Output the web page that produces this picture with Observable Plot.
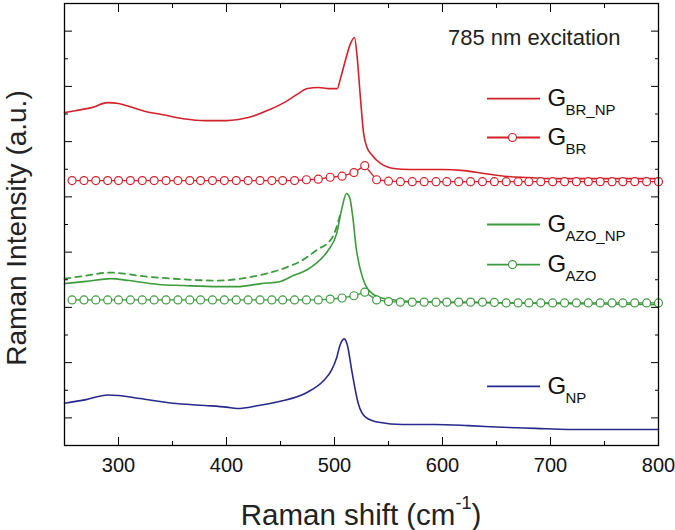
<!DOCTYPE html>
<html><head><meta charset="utf-8">
<script src="https://cdn.jsdelivr.net/npm/d3@7"></script>
<script src="https://cdn.jsdelivr.net/npm/@observablehq/plot@0.6"></script>
<style>body{margin:0;background:#fff} #chart{width:675px;height:530px}</style>
</head><body><div id="chart"></div>
<script>
// ---- data (Raman shift in cm-1, intensity in arbitrary stacked units) ----
const brNpX = [250,260,275,290,300,310,325,340,360,380,400,420,440,455,465,475,485,495,502.5,505.5,510,514.8,518.5,521,524,527,530,535,542.6,554.8,570,600,620,640,660,680,700,750,800];
const brNpY = [12.05,12.12,12.23,12.41,12.38,12.27,12.09,11.98,11.83,11.76,11.76,11.87,12.16,12.45,12.70,12.92,12.96,12.92,12.92,13.28,13.93,14.55,14.77,14.05,12.59,11.29,10.80,10.50,10.21,10.03,9.99,9.99,9.95,9.84,9.74,9.70,9.66,9.66,9.66];

const circleX = [257,268,279,290,300,311,322,333,344,355,366,376,387,398,409,420,431,442,452,463,474,485,496,507,518,528,539,550,561,572,583,594,604,615,626,637,648,659,670,680,691,702,713,724,735,746,757,767,778,789,800];
const brY = [9.59,9.59,9.59,9.59,9.59,9.59,9.59,9.59,9.59,9.59,9.59,9.59,9.59,9.59,9.59,9.59,9.59,9.59,9.59,9.59,9.62,9.64,9.71,9.75,9.88,10.13,9.62,9.57,9.55,9.55,9.55,9.55,9.55,9.55,9.55,9.55,9.55,9.55,9.55,9.55,9.55,9.55,9.55,9.55,9.55,9.55,9.55,9.55,9.55,9.55,9.55];
const azoY = [5.27,5.27,5.27,5.27,5.27,5.27,5.27,5.27,5.27,5.27,5.27,5.27,5.27,5.27,5.27,5.27,5.27,5.27,5.27,5.27,5.27,5.27,5.30,5.34,5.42,5.55,5.27,5.21,5.19,5.19,5.19,5.19,5.19,5.19,5.19,5.19,5.18,5.16,5.16,5.16,5.16,5.16,5.16,5.16,5.16,5.16,5.16,5.16,5.16,5.16,5.16];

const azoNpX = [250,270,293,310,337,360,392,410,432,450,462,475,483,494,502,507,511,514,517,520,526,535,546,560,600,650,700,750,800];
const azoNpY = [5.86,5.94,6.04,5.97,5.83,5.79,5.75,5.75,5.86,5.94,6.15,6.37,6.59,7.06,7.67,8.61,9.12,8.98,8.25,7.17,6.08,5.50,5.32,5.25,5.18,5.16,5.14,5.12,5.10];

const azoDashX = [250,265,293,305,318,350,392,425,455,470,483,498,505];
const azoDashY = [6.04,6.12,6.26,6.22,6.15,6.04,5.97,6.12,6.44,6.70,7.06,7.53,8.32];

const npX = [250,270,290,300,320,350,380,400,410,430,450,475,490,497,502,505,509,512,516,522,529,541,563,593,624,655,686,717,800];
const npY = [1.53,1.66,1.83,1.81,1.70,1.53,1.45,1.39,1.34,1.45,1.60,1.93,2.35,2.71,3.18,3.62,3.86,3.62,2.71,1.52,1.02,0.84,0.76,0.76,0.72,0.66,0.62,0.58,0.58];

const xMajorTicks = [300,400,500,600,700,800];
const xMinorTicks = [250,350,450,550,650,750];
const yMajorTicks = [1,3,5,7,9,11,13,15];
const yMinorTicks = [2,4,6,8,10,12,14];

const legendLabels = ["BR_NP","BR","AZO_NP","AZO","NP"];
const legendMarker = [false,true,false,true,false];

// ---- styles / layout ----
const FONT = "'Liberation Sans', Arial, sans-serif";
const RED = "#d3212a", GREEN = "#3c9b3c", BLUE = "#28298c";
const legendColors = [RED, RED, GREEN, GREEN, BLUE];
const legendRowY = [12.56, 11.15, 8.0, 6.55, 2.14];
const legendX1 = 641.7, legendX2 = 690.7, legendDotX = 664.8, legendTextX = 697.2;

const pts = (xs, ys) => xs.map((x, i) => ({x, y: ys[i]}));
const brNp = pts(brNpX, brNpY), br = pts(circleX, brY), azoNp = pts(azoNpX, azoNpY),
      azo = pts(circleX, azoY), azoDash = pts(azoDashX, azoDashY), np = pts(npX, npY);
const legend = legendLabels.map((s, i) => ({sub: s, marker: legendMarker[i], color: legendColors[i], y: legendRowY[i]}));

const noText = () => "";
const plot = Plot.plot({
  width: 675, height: 530,
  marginLeft: 64, marginRight: 17, marginTop: 3, marginBottom: 85,
  style: {fontFamily: FONT, background: "white"},
  x: {domain: [250, 800]},
  y: {domain: [0, 16]},
  marks: [
    Plot.line(azoDash, {x: "x", y: "y", stroke: GREEN, strokeWidth: 1.8, strokeDasharray: "6,5", curve: "monotone-x"}),
    Plot.line(brNp, {x: "x", y: "y", stroke: RED, strokeWidth: 1.6, curve: "monotone-x"}),
    Plot.line(br, {x: "x", y: "y", stroke: RED, strokeWidth: 1.3}),
    Plot.dot(br, {x: "x", y: "y", r: 4, stroke: RED, fill: "white", strokeWidth: 1.2}),
    Plot.line(azoNp, {x: "x", y: "y", stroke: GREEN, strokeWidth: 1.6, curve: "monotone-x"}),
    Plot.line(azo, {x: "x", y: "y", stroke: GREEN, strokeWidth: 1.3}),
    Plot.dot(azo, {x: "x", y: "y", r: 4, stroke: GREEN, fill: "white", strokeWidth: 1.2}),
    Plot.line(np, {x: "x", y: "y", stroke: BLUE, strokeWidth: 1.6, curve: "monotone-x"}),
    // legend
    Plot.ruleY(legend, {y: "y", x1: legendX1, x2: legendX2, stroke: "color", strokeWidth: 1.8}),
    Plot.dot(legend.filter(d => d.marker), {x: legendDotX, y: "y", r: 4, stroke: "color", fill: "white", strokeWidth: 1.2}),
    Plot.text(legend, {x: legendTextX, y: "y", text: () => "G", fontSize: 24, textAnchor: "start", fill: "#111"}),
    Plot.text(legend, {x: legendTextX, y: "y", text: "sub", dx: 18, dy: 12, fontSize: 15, textAnchor: "start", fill: "#111"}),
    // axes (inward ticks on all four sides)
    Plot.axisX({ticks: xMajorTicks, anchor: "bottom", tickSize: -8, tickFormat: noText, label: null}),
    Plot.axisX({ticks: xMinorTicks, anchor: "bottom", tickSize: -4, tickFormat: noText, label: null}),
    Plot.axisX({ticks: xMajorTicks, anchor: "top", tickSize: -8, tickFormat: noText, label: null}),
    Plot.axisX({ticks: xMinorTicks, anchor: "top", tickSize: -4, tickFormat: noText, label: null}),
    Plot.axisX({ticks: xMajorTicks, anchor: "bottom", tickSize: 0, tickPadding: 12, fontSize: 20, fill: "#111", label: null}),
    Plot.axisY({ticks: yMajorTicks, anchor: "left", tickSize: -8, tickFormat: noText, label: null}),
    Plot.axisY({ticks: yMinorTicks, anchor: "left", tickSize: -4, tickFormat: noText, label: null}),
    Plot.axisY({ticks: yMajorTicks, anchor: "right", tickSize: -8, tickFormat: noText, label: null}),
    Plot.axisY({ticks: yMinorTicks, anchor: "right", tickSize: -4, tickFormat: noText, label: null}),
    Plot.frame({stroke: "black", strokeWidth: 1.3})
  ]
});
document.getElementById("chart").appendChild(plot);

// titles with super/subscripts as real SVG text
const svg = d3.select(plot);
svg.append("text").attr("x", 448).attr("y", 45).attr("text-anchor", "start").attr("font-size", 22).attr("fill", "#222")
   .attr("font-family", FONT).text("785 nm excitation");
const xt = svg.append("text").attr("x", 361).attr("y", 525).attr("text-anchor", "middle")
   .attr("font-size", 29.5).attr("fill", "#222").attr("font-family", FONT);
xt.append("tspan").text("Raman shift (cm");
xt.append("tspan").attr("font-size", 18).attr("dy", -16).text("-1");
xt.append("tspan").attr("dy", 16).text(")");
svg.append("text").attr("transform", "translate(26,228) rotate(-90)").attr("text-anchor", "middle")
   .attr("font-size", 28).attr("fill", "#222").attr("font-family", FONT)
   .text("Raman Intensity (a.u.)");
</script></body></html>
